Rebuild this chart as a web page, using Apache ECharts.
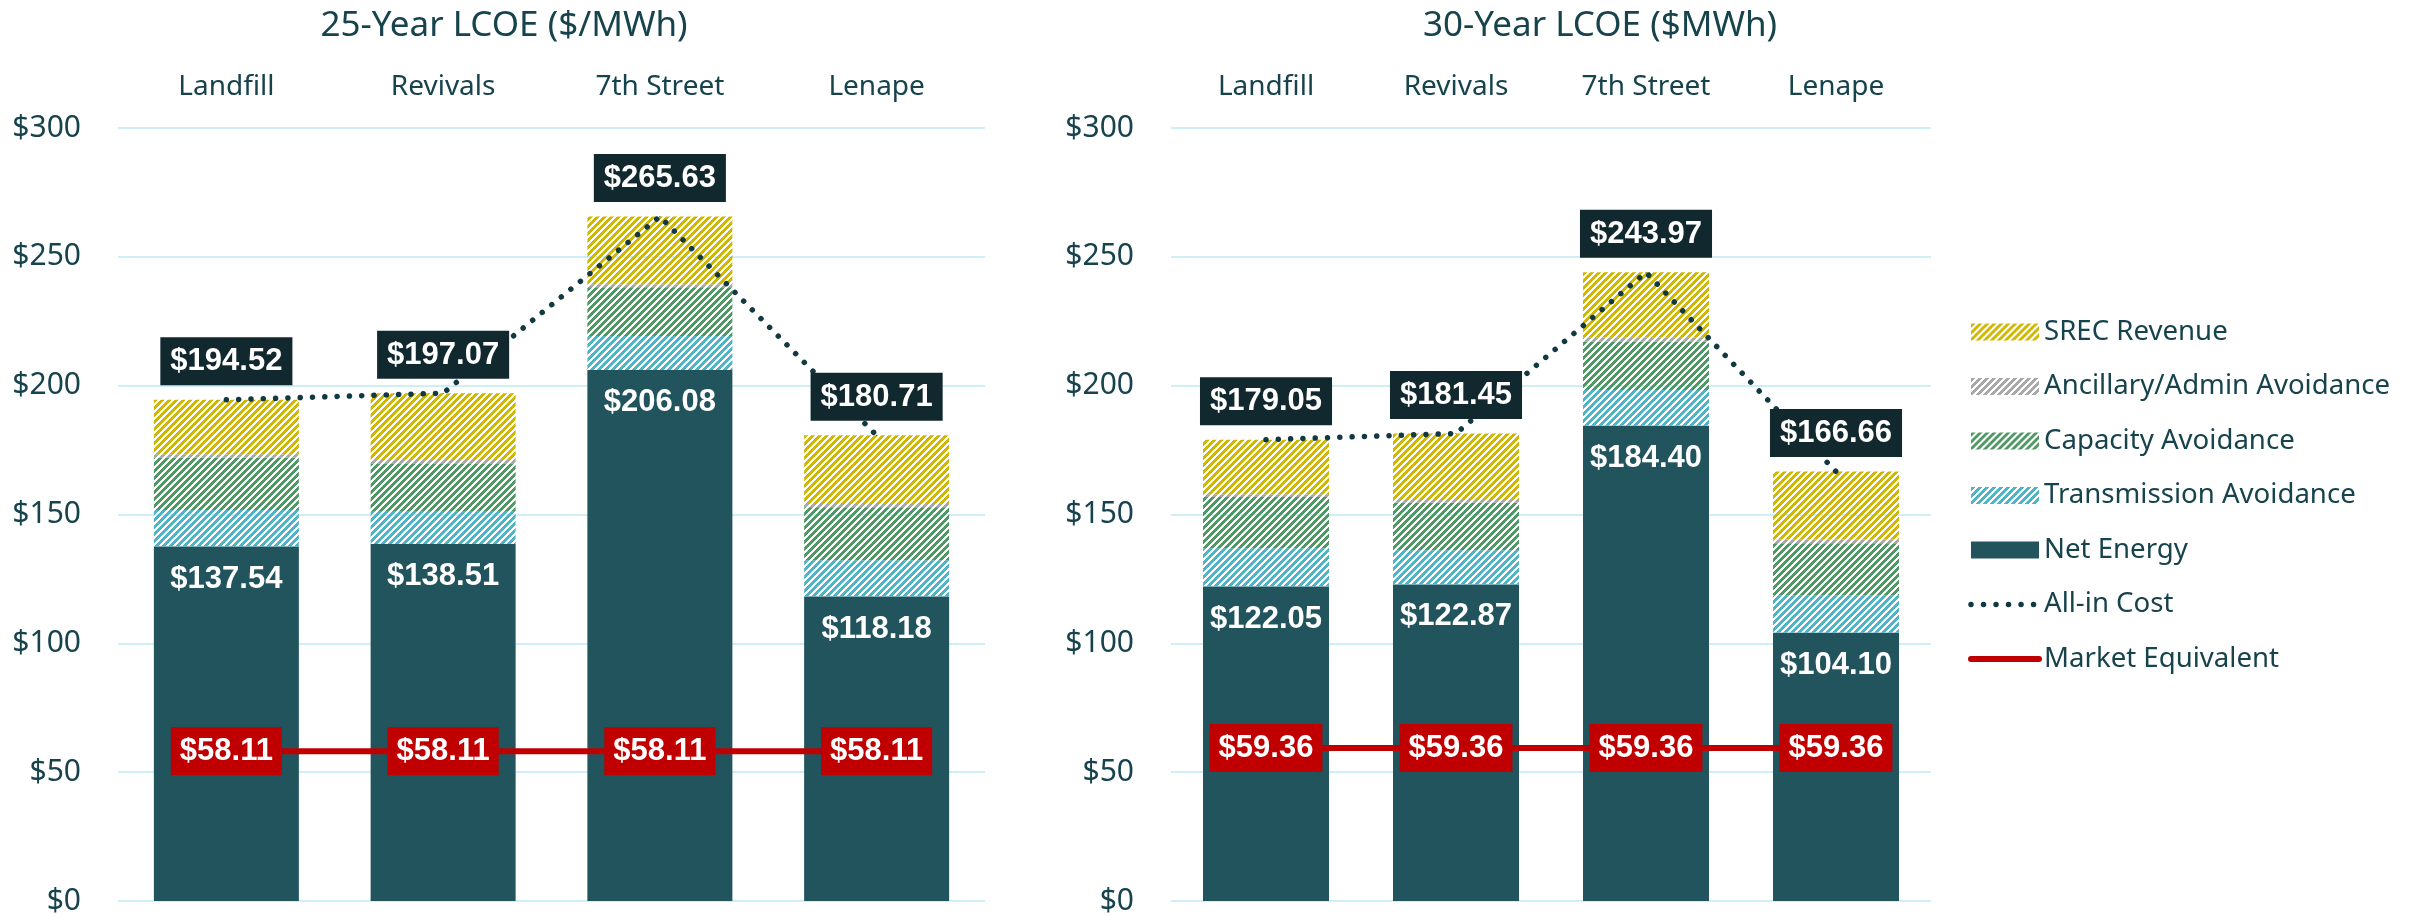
<!DOCTYPE html>
<html>
<head>
<meta charset="utf-8">
<title>LCOE comparison</title>
<script src="https://cdn.jsdelivr.net/npm/echarts@6/dist/echarts.min.js"></script>
<style>
  html, body { margin: 0; padding: 0; background: #ffffff; }
  #chart { width: 2415px; height: 914px; }
</style>
</head>
<body>
<div id="chart"></div>
<script>
// Sites compared in both panels
const categories = ['Landfill', 'Revivals', '7th Street', 'Lenape'];

// Value axis ($/MWh)
const axisMin = 0;
const axisMax = 300;
const axisStep = 50;

// 25-year LCOE components ($/MWh)
const net25 = [137.54, 138.51, 206.08, 118.18];
const trans25 = [14.2, 12.6, 13.2, 14.1];
const cap25 = [20.3, 18.5, 18.9, 20.5];
const anc25 = [1.3, 1.5, 1.2, 1.3];
const srec25 = [21.18, 25.96, 26.25, 26.63];
const allIn25 = [194.52, 197.07, 265.63, 180.71];
const market25 = [58.11, 58.11, 58.11, 58.11];

// 30-year LCOE components ($/MWh)
const net30 = [122.05, 122.87, 184.40, 104.10];
const trans30 = [14.9, 13.3, 13.9, 14.6];
const cap30 = [19.8, 18.4, 18.8, 20.1];
const anc30 = [1.1, 1.4, 1.5, 1.5];
const srec30 = [21.20, 25.48, 25.37, 26.36];
const allIn30 = [179.05, 181.45, 243.97, 166.66];
const market30 = [59.36, 59.36, 59.36, 59.36];

const TEXT = '#17434d';
const GRID_LINE = '#cdeff5';
const NET = '#22545e';
const DARK_BOX = '#11282e';
const RED = '#c00000';
const DOT = '#123841';
const FONT = "'Noto Sans', sans-serif";
const LABEL_FONT = "'Liberation Sans', Arial, sans-serif";

// Upward diagonal hatch tile
function hatch(color) {
  const n = 7;
  const c = document.createElement('canvas');
  c.width = n; c.height = n;
  const ctx = c.getContext('2d');
  ctx.fillStyle = color;
  for (let y = 0; y < n; y++) {
    for (let x = 0; x < n; x++) {
      if ((x + y) % n < 4) ctx.fillRect(x, y, 1, 1);
    }
  }
  return { image: c, repeat: 'repeat' };
}

const SREC = hatch('#d2b700');
const ANC = hatch('#a9a9a9');
const CAP = hatch('#4e9964');
const TRANS = hatch('#50b4c8');

const money = p => '$' + Number(p.value).toFixed(2);

const dotLine = { color: DOT, width: 5.5, type: [0.01, 12.3], cap: 'round' };
const redLine = { color: RED, width: 6, cap: 'round' };

function panel(idx, d) {
  const barWidth = idx === 0 ? 145 : 126;
  const base = {
    type: 'bar', xAxisIndex: idx, yAxisIndex: idx, stack: 'lcoe' + idx,
    barWidth: barWidth, emphasis: { disabled: true }
  };
  return [
    Object.assign({}, base, {
      name: 'Net Energy', data: d.net, itemStyle: { color: NET },
      label: {
        show: true, position: 'insideTop', distance: 17, color: '#ffffff',
        fontWeight: 'bold', fontSize: 31, lineHeight: 31, fontFamily: LABEL_FONT,
        formatter: money
      }
    }),
    Object.assign({}, base, { name: 'Transmission Avoidance', data: d.trans, itemStyle: { color: TRANS } }),
    Object.assign({}, base, { name: 'Capacity Avoidance', data: d.cap, itemStyle: { color: CAP } }),
    Object.assign({}, base, { name: 'Ancillary/Admin Avoidance', data: d.anc, itemStyle: { color: ANC } }),
    Object.assign({}, base, { name: 'SREC Revenue', data: d.srec, itemStyle: { color: SREC } }),
    {
      type: 'line', name: 'All-in Cost', xAxisIndex: idx, yAxisIndex: idx, data: d.allIn,
      symbol: 'circle', symbolSize: 1, z: 5, emphasis: { disabled: true },
      itemStyle: { color: DOT },
      lineStyle: dotLine,
      label: {
        show: true, position: 'top', distance: 14, color: '#ffffff',
        backgroundColor: DARK_BOX, padding: [9, 10, 8, 10],
        fontWeight: 'bold', fontSize: 31, lineHeight: 31, fontFamily: LABEL_FONT,
        formatter: money
      }
    },
    {
      type: 'line', name: 'Market Equivalent', xAxisIndex: idx, yAxisIndex: idx, data: d.market,
      symbol: 'circle', symbolSize: 1, z: 6, emphasis: { disabled: true },
      itemStyle: { color: RED },
      lineStyle: { color: RED, width: 6 },
      label: {
        show: true, position: 'inside', color: '#ffffff',
        backgroundColor: RED, padding: [9, 9, 8, 9],
        fontWeight: 'bold', fontSize: 31, lineHeight: 31, fontFamily: LABEL_FONT,
        formatter: money
      }
    }
  ];
}

function xAxis(idx) {
  return {
    type: 'category', gridIndex: idx, position: 'top', data: categories,
    axisLine: { show: false }, axisTick: { show: false },
    axisLabel: { margin: 27, fontSize: 28, color: TEXT, fontFamily: FONT }
  };
}

function yAxis(idx) {
  return {
    type: 'value', gridIndex: idx, min: axisMin, max: axisMax, interval: axisStep,
    axisLine: { show: false }, axisTick: { show: false },
    axisLabel: { margin: 37, fontSize: 30, color: TEXT, fontFamily: FONT, formatter: '${value}' },
    splitLine: { lineStyle: { color: GRID_LINE, width: 2 } }
  };
}

const chart = echarts.init(document.getElementById('chart'), null, { renderer: 'canvas' });

chart.setOption({
  animation: false,
  backgroundColor: '#ffffff',
  title: [
    { text: '25-Year LCOE ($/MWh)', left: 504, top: 9, textAlign: 'center', padding: 0,
      textStyle: { fontSize: 35, fontWeight: 'normal', color: TEXT, fontFamily: FONT } },
    { text: '30-Year LCOE ($MWh)', left: 1600, top: 9, textAlign: 'center', padding: 0,
      textStyle: { fontSize: 35, fontWeight: 'normal', color: TEXT, fontFamily: FONT } }
  ],
  legend: {
    orient: 'vertical', left: 1963, top: 313, itemWidth: 68, itemHeight: 17, itemGap: 26.5,
    selectedMode: false,
    textStyle: { fontSize: 27.6, lineHeight: 28, color: TEXT, fontFamily: FONT },
    data: [
      { name: 'SREC Revenue', icon: 'rect' },
      { name: 'Ancillary/Admin Avoidance', icon: 'rect' },
      { name: 'Capacity Avoidance', icon: 'rect' },
      { name: 'Transmission Avoidance', icon: 'rect' },
      { name: 'Net Energy', icon: 'rect' },
      { name: 'All-in Cost', itemStyle: { opacity: 0 }, lineStyle: { color: DOT, width: 5.5, type: [0.01, 12.5], cap: 'round' } },
      { name: 'Market Equivalent', itemStyle: { opacity: 0 }, lineStyle: redLine }
    ]
  },
  grid: [
    { left: 118, top: 128, width: 867, height: 773, outerBoundsMode: 'none' },
    { left: 1171, top: 128, width: 760, height: 773, outerBoundsMode: 'none' }
  ],
  xAxis: [xAxis(0), xAxis(1)],
  yAxis: [yAxis(0), yAxis(1)],
  series: [].concat(
    panel(0, { net: net25, trans: trans25, cap: cap25, anc: anc25, srec: srec25, allIn: allIn25, market: market25 }),
    panel(1, { net: net30, trans: trans30, cap: cap30, anc: anc30, srec: srec30, allIn: allIn30, market: market30 })
  )
});
</script>
</body>
</html>
